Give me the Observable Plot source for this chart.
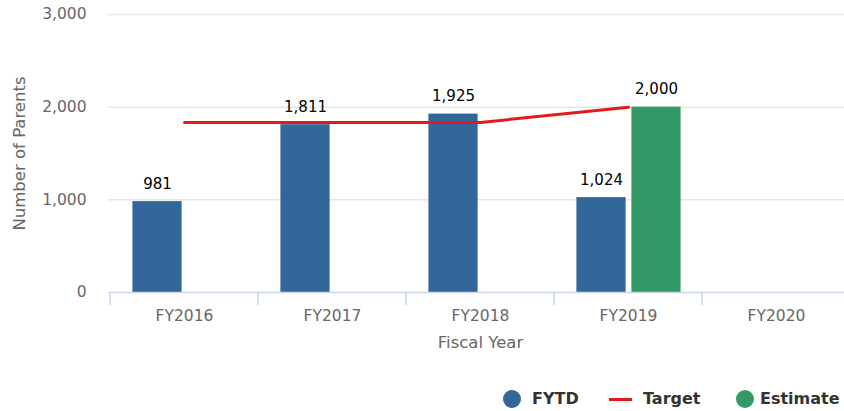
<!DOCTYPE html>
<html><head><meta charset="utf-8">
<script src="https://cdn.jsdelivr.net/npm/d3@7"></script>
<script src="https://cdn.jsdelivr.net/npm/@observablehq/plot@0.6"></script>
<style>
body{margin:0;overflow:hidden;background:#fff;font-family:"DejaVu Sans",sans-serif;}
#wrap{position:relative;width:844px;height:411px;overflow:hidden;}
#chart svg{max-width:none !important;}
#legend{position:absolute;left:0;top:0;width:844px;height:411px;pointer-events:none;}
.lg{position:absolute;}
.dot{width:18px;height:18px;border-radius:50%;top:390px;}
.lt{top:388px;font-weight:bold;font-size:16px;color:#333;line-height:22px;}
.ln{width:23px;height:3px;top:398px;}
</style></head><body>
<div id="wrap"><div id="chart"></div>
<div id="legend">
  <div class="lg dot" style="left:503px;background:#336699"></div>
  <div class="lg lt" style="left:532px">FYTD</div>
  <div class="lg ln" style="left:609px;background:#e41a1a"></div>
  <div class="lg lt" style="left:643px">Target</div>
  <div class="lg dot" style="left:736px;background:#339966"></div>
  <div class="lg lt" style="left:760px">Estimate</div>
</div></div>
<script>
const categories = ["FY2016", "FY2017", "FY2018", "FY2019", "FY2020"];
const fytd = [981, 1811, 1925, 1024, null];
const target = [1835, 1835, 1835, 2000, null];
const estimate = [null, null, null, 2000, null];
const yTicks = [0, 1000, 2000, 3000];

const W = 852, H = 370, ML = 108, MT = 14, MB = H - 292;
const bw = (W - ML) / categories.length;
const rows = categories.map((c, i) => ({cat: c, fytd: fytd[i], target: target[i], estimate: estimate[i]}));
const fmt = d3.format(",");
const fRows = rows.filter(d => d.fytd != null);
const eRows = rows.filter(d => d.estimate != null);
const tRows = rows.filter(d => d.target != null);

const chart = Plot.plot({
  width: W, height: H, marginLeft: ML, marginRight: 0, marginTop: MT, marginBottom: MB,
  style: {fontFamily: "DejaVu Sans", background: "white", maxWidth: "none"},
  x: {type: "band", domain: categories, padding: 0, label: null},
  y: {domain: [0, 3000], label: null},
  marks: [
    Plot.gridY(yTicks.slice(1), {stroke: "#e6e6e6", strokeOpacity: 1, strokeWidth: 1.5}),
    Plot.axisY({ticks: yTicks, tickSize: 0, tickPadding: 22, tickFormat: fmt, fontSize: 15.5, fill: "#666", label: null}),
    Plot.axisX({tickSize: 0, tickPadding: 17, fontSize: 15.5, fill: "#666", label: null}),
    Plot.barY(fRows, {x: "cat", y: "fytd", fill: "#336699", insetLeft: bw / 2 - 52, insetRight: bw / 2 + 2}),
    Plot.barY(eRows, {x: "cat", y: "estimate", fill: "#339966", insetLeft: bw / 2 + 3, insetRight: bw / 2 - 53}),
    Plot.ruleY([0], {stroke: "#ccd6eb", strokeWidth: 1.5}),
    Plot.ruleX(categories, {x: d => d, y1: 0, y2: 0, dx: -bw / 2, insetBottom: -13, stroke: "#ccd6eb", strokeWidth: 1.5}),
    Plot.line(tRows, {x: "cat", y: "target", stroke: "#e41a1a", strokeWidth: 3}),
    Plot.text(fRows, {x: "cat", y: "fytd", text: d => fmt(d.fytd), dx: -27, dy: -13, lineAnchor: "bottom", fontSize: 15, fill: "#000"}),
    Plot.text(eRows, {x: "cat", y: "estimate", text: d => fmt(d.estimate), dx: 28, dy: -13, lineAnchor: "bottom", fontSize: 15, fill: "#000"}),
    Plot.text(["Number of Parents"], {frameAnchor: "left", textAnchor: "middle", lineAnchor: "middle", rotate: -90, dx: -89, fontSize: 16.5, fill: "#666"}),
    Plot.text(["Fiscal Year"], {frameAnchor: "bottom", lineAnchor: "middle", dy: 50, fontSize: 16.5, fill: "#666"})
  ]
});
document.getElementById("chart").appendChild(chart);
</script>
</body></html>
